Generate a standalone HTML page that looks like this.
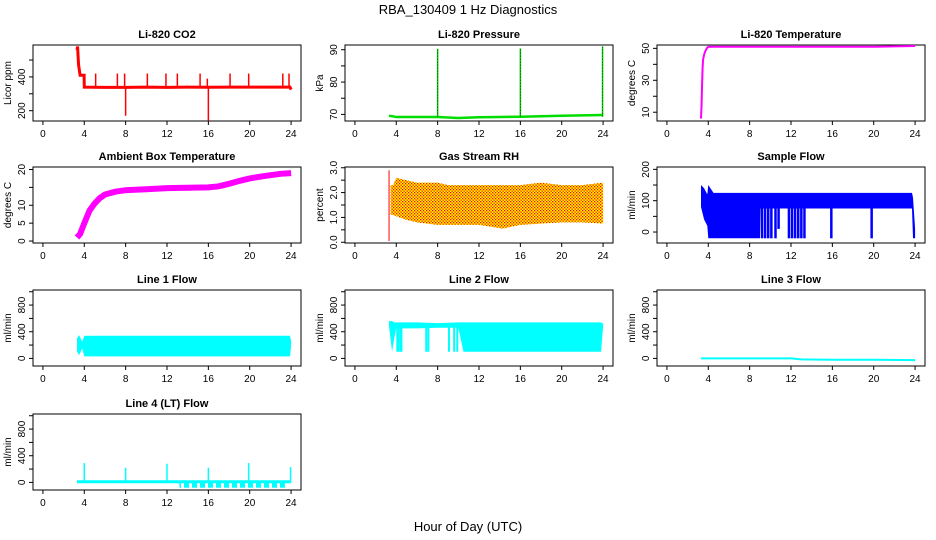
<!DOCTYPE html>
<html><head><meta charset="utf-8">
<style>
html,body{margin:0;padding:0;background:#fff;}
svg{display:block;font-family:"Liberation Sans",Arial,sans-serif;}
</style></head>
<body>
<svg id="chart" width="936" height="540" viewBox="0 0 936 540" xmlns="http://www.w3.org/2000/svg">
<defs>
<pattern id="rhdots" width="3" height="3" patternUnits="userSpaceOnUse">
<rect width="3" height="3" fill="#ffff00"/><rect x="0" y="0" width="1.3" height="1.3" fill="#ff0000"/><rect x="1.5" y="1.5" width="1.3" height="1.3" fill="#ff0000"/>
</pattern>
<pattern id="l4dip" width="8" height="10" patternUnits="userSpaceOnUse"><rect width="5" height="10" fill="#00ffff"/></pattern>
</defs>
<text x="468" y="14" text-anchor="middle" font-size="13">RBA_130409  1 Hz Diagnostics</text>
<text x="468" y="531" text-anchor="middle" font-size="13">Hour of Day (UTC)</text>
</svg>
<script>
// ---------- data ----------
var xTicks = [0,4,8,12,16,20,24];

var co2Hours = [3.3,3.35,3.4,3.45,3.5,3.6,3.8,3.98,4.0,6,8,10,12,14,16,18,20,22,23.9,24];
var co2Vals  = [560,580,520,470,450,410,410,410,340,338,338,340,338,340,339,340,340,340,340,325];
var co2SpikeHours = [5.1,7.2,7.9,8.0,10.1,11.9,13.0,15.2,15.9,16.0,18.1,19.9,23.2,23.8];
var co2SpikeVals  = [420,420,420,170,420,420,420,420,390,140,420,420,420,420];

var presHours = [3.3,4,6,8,10,12,14,16,18,20,22,24];
var presVals  = [69.6,69.2,69.2,69.2,68.9,69.1,69.2,69.3,69.4,69.6,69.7,69.8];
var presSpikeHours = [8.0,16.0,23.95];
var presSpikeVals  = [90.3,90.4,91.0];

var tempHours = [3.3,3.35,3.4,3.45,3.5,3.6,3.7,3.85,4.0,8,12,16,20,22,24];
var tempVals  = [6,15,28,38,43,46,48,50,51,51,51,51,51,51.2,51.5];

var ambHours = [3.3,3.6,4.0,4.5,5.0,5.5,6.0,7.0,8.0,10,12,14,16,17,18,19,20,21,22,23,24];
var ambVals  = [1,2,5,8.5,10.5,12,13,13.8,14.2,14.5,14.8,14.9,15,15.3,16,16.8,17.5,18,18.4,18.8,19];

var rhHours = [3.45,3.7,4.0,5.0,6.0,7.0,8.0,9.0,12,14.3,16,18,20,22,24];
var rhLo    = [1.1,1.1,1.05,0.9,0.8,0.75,0.7,0.7,0.7,0.55,0.7,0.75,0.8,0.8,0.75];
var rhHi    = [2.3,2.3,2.6,2.5,2.4,2.4,2.4,2.3,2.3,2.3,2.3,2.4,2.3,2.3,2.4];
var rhSpikeHours = [3.3];
var rhSpikeLo    = [0.05];
var rhSpikeHi    = [2.9];

var sfHours = [3.3,3.6,3.9,4.0,4.5,9.0,9.05,11.0,11.5,12.0,13.4,13.5,16,20,23.7,23.8,24];
var sfLo    = [80,40,20,-20,-20,-20,75,75,75,75,75,75,75,75,75,-20,-20];
var sfHi    = [150,140,120,150,125,125,125,125,125,125,125,125,125,125,125,110,10];
var sfDropHours = [9.2,9.5,9.8,10.1,10.5,10.8,11.8,12.1,12.4,12.7,13.0,13.3,15.9,19.8];
var sfDropVals  = [-20,-20,-20,-20,-20,10,-20,-20,-20,-20,-20,-20,-20,-20];

var l1Hours = [3.3,3.5,3.8,4.0,8,12,16,20,23.9,24];
var l1Lo    = [100,50,150,30,30,30,30,30,30,180];
var l1Hi    = [300,350,250,340,340,340,340,340,340,260];

var l2Hours = [3.3,3.6,3.8,4.0,6,8,10,10.5,14,18,22,23.8,24];
var l2Lo    = [480,100,300,450,450,460,460,100,100,100,100,100,480];
var l2Hi    = [560,560,540,540,540,530,540,540,540,540,540,540,520];
var l2DropHours = [4.1,4.2,4.4,4.5,6.9,7.1,9.1,9.6,9.9];
var l2DropVals  = [100,100,100,100,100,100,100,100,100];

var l3Hours = [3.3,8,12,13,16,20,24];
var l3Vals  = [0,0,0,-15,-20,-20,-25];

var l4Hours = [3.3,24];
var l4Vals  = [10,10];
var l4SpikeHours = [4.0,8.0,12.0,16.0,19.9,23.95];
var l4SpikeVals  = [290,220,280,220,290,230];
var l4DipStart = 13.2;
var l4DipEnd = 23.4;
var l4DipVal = -80;

// ---------- layout ----------
var svg = document.getElementById('chart');
var NS = 'http://www.w3.org/2000/svg';
var colLeft = [33,345,657], boxW = 268, rowTop = [45,167,290,414], boxH = 76;

function mk(tag, attrs, parent){
  var e = document.createElementNS(NS, tag);
  for (var k in attrs) e.setAttribute(k, attrs[k]);
  (parent||svg).appendChild(e);
  return e;
}

function panel(col,row,title,ylab,ymin,ymax,ticks,labels,key){
  var g = mk('g',{});
  
  
  var L = colLeft[col], T = rowTop[row];
  var xr = 24*1.08, x0 = -24*0.04;
  var X = function(h){ return L + (h - x0)/xr*boxW; };
  var Y = function(v){ return T + (ymax - v)/(ymax - ymin)*boxH; };
  var t = mk('text',{x:L+boxW/2,y:T-7,'text-anchor':'middle','font-size':'11','font-weight':'bold'},g);
  t.textContent = title;
  
  
  var bx = mk('rect',{x:L,y:T,width:boxW,height:boxH,fill:'none',stroke:'#000','stroke-width':'1'},g);
  
  
  var xa = mk('g',{},g);
  
  
  xTicks.forEach(function(h){
    mk('line',{x1:X(h),x2:X(h),y1:T+boxH,y2:T+boxH+4,stroke:'#000'},xa);
    var tl = mk('text',{x:X(h),y:T+boxH+16,'text-anchor':'middle','font-size':'10'},xa);
    tl.textContent = h;
  });
  var ya = mk('g',{},g);
  
  
  ticks.forEach(function(v,i){
    mk('line',{x1:L-4,x2:L,y1:Y(v),y2:Y(v),stroke:'#000'},ya);
    if (labels[i] !== '') {
      var tl = mk('text',{x:L-8,y:Y(v),'text-anchor':'middle','font-size':'10',transform:'rotate(-90 '+(L-8)+' '+Y(v)+')'},ya);
      tl.textContent = labels[i];
    }
  });
  var yl = mk('text',{x:L-22,y:T+boxH/2,'text-anchor':'middle','font-size':'10',transform:'rotate(-90 '+(L-22)+' '+(T+boxH/2)+')'},g);
  yl.textContent = ylab;
  
  
  var d = mk('g',{},g);
  
  
  return {X:X,Y:Y,g:d};
}

function line(p,hs,vs,color,w){
  var pts = hs.map(function(h,i){ return p.X(h).toFixed(1)+','+p.Y(vs[i]).toFixed(1); }).join(' ');
  return mk('polyline',{points:pts,fill:'none',stroke:color,'stroke-width':w||1.5},p.g);
}
function band(p,hs,lo,hi,fill){
  var a = hs.map(function(h,i){ return p.X(h).toFixed(1)+','+p.Y(hi[i]).toFixed(1); });
  var b = hs.map(function(h,i){ return p.X(h).toFixed(1)+','+p.Y(lo[i]).toFixed(1); }).reverse();
  return mk('polygon',{points:a.concat(b).join(' '),fill:fill,stroke:'none'},p.g);
}
function spikes(p,hs,vs,base,color,w){
  hs.forEach(function(h,i){
    var b = (typeof base === 'number') ? base : base[i];
    mk('line',{x1:p.X(h),x2:p.X(h),y1:p.Y(b),y2:p.Y(vs[i]),stroke:color,'stroke-width':w||1.2},p.g);
  });
}

var flowTicks=[0,200,400,600,800,1000], flowLabels=['0','','400','','800',''];

var p = panel(0,0,'Li-820 CO2','Licor ppm',139,589,[200,300,400,500],['200','','400',''],'co2');
spikes(p,co2SpikeHours,co2SpikeVals,340,'#ff0000',1.5);
line(p,co2Hours,co2Vals,'#ff0000',3);

p = panel(1,0,'Li-820 Pressure','kPa',67.96,91.46,[70,75,80,85,90],['70','','80','','90'],'pressure');
line(p,presHours,presVals,'#00dd00',2.5);
spikes(p,presSpikeHours,presSpikeVals,69.3,'#00cc00',1.5);
presSpikeHours.forEach(function(h,i){
  mk('line',{x1:p.X(h),x2:p.X(h),y1:p.Y(69.3),y2:p.Y(presSpikeVals[i]),stroke:'#000','stroke-width':'0.6','stroke-dasharray':'1,2'},p.g);
});

p = panel(2,0,'Li-820 Temperature','degrees C',4.5,52.1,[10,20,30,40,50],['10','','30','','50'],'temperature');
line(p,tempHours,tempVals,'#ff00ff',2);

p = panel(0,1,'Ambient Box Temperature','degrees C',-0.55,20.7,[0,5,10,15,20],['0','5','10','','20'],'ambient');
line(p,ambHours,ambVals,'#ff00ff',6);

p = panel(1,1,'Gas Stream RH','percent',-0.03,3.03,[0,0.5,1,1.5,2,2.5,3],['0.0','','1.0','','2.0','','3.0'],'rh');
band(p,rhHours,rhLo,rhHi,'url(#rhdots)');
spikes(p,rhSpikeHours,rhSpikeHi,rhSpikeLo,'#ff0000',1);

p = panel(2,1,'Sample Flow','ml/min',-35,207.5,[0,50,100,150,200],['0','','100','','200'],'sample-flow');
band(p,sfHours,sfLo,sfHi,'#0000ff');
spikes(p,sfDropHours,sfDropVals,100,'#0000ff',2.5);

p = panel(0,2,'Line 1 Flow','ml/min',-114,1026,flowTicks,flowLabels,'line1-flow');
band(p,l1Hours,l1Lo,l1Hi,'#00ffff');

p = panel(1,2,'Line 2 Flow','ml/min',-114,1026,flowTicks,flowLabels,'line2-flow');
band(p,l2Hours,l2Lo,l2Hi,'#00ffff');
spikes(p,l2DropHours,l2DropVals,500,'#00ffff',2);

p = panel(2,2,'Line 3 Flow','ml/min',-114,1026,flowTicks,flowLabels,'line3-flow');
line(p,l3Hours,l3Vals,'#00ffff',2);

p = panel(0,3,'Line 4 (LT) Flow','ml/min',-114,1026,flowTicks,flowLabels,'line4-flow');
mk('rect',{x:p.X(l4DipStart),y:p.Y(0),width:p.X(l4DipEnd)-p.X(l4DipStart),height:p.Y(l4DipVal)-p.Y(0),fill:'url(#l4dip)'},p.g);
line(p,l4Hours,l4Vals,'#00ffff',3);
spikes(p,l4SpikeHours,l4SpikeVals,10,'#00ffff',1.5);
</script>
</body></html>
